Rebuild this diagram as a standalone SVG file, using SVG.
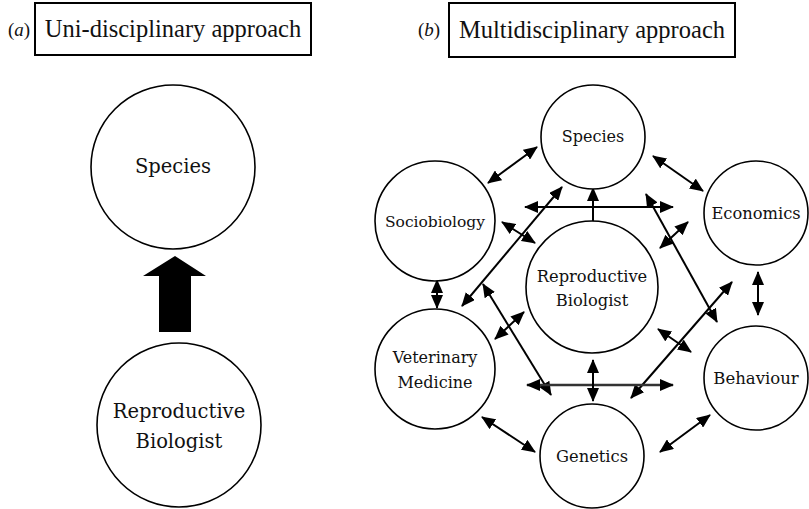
<svg xmlns="http://www.w3.org/2000/svg" width="809" height="509" viewBox="0 0 809 509" font-family="Liberation Serif, serif">
<style>
.c{fill:#fff;stroke:#000;stroke-width:1.6}
.a{stroke:#000;stroke-width:2;fill:none;marker-start:url(#h);marker-end:url(#h)}
.s{stroke:#000;stroke-width:2;fill:none;marker-end:url(#h)}
.box{fill:#fff;stroke:#000;stroke-width:2}
</style>
<defs>
<marker id="h" viewBox="0 0 14 12" refX="13" refY="6" markerWidth="14" markerHeight="12" markerUnits="userSpaceOnUse" orient="auto-start-reverse">
<path d="M0,0 L14,6 L0,12 z" fill="#000"/>
</marker>
</defs>
<rect width="809" height="509" fill="#fff"/>

<g id="title-a" fill="#111">
<text x="8" y="36" font-size="19" text-anchor="start">(<tspan font-style="italic">a</tspan>)</text>
<rect class="box" x="35" y="3" width="276" height="52"/>
<text x="173" y="37" font-size="24.5" text-anchor="middle">Uni-disciplinary approach</text>
</g>
<g id="title-b" fill="#111">
<text x="418" y="36" font-size="19" text-anchor="start">(<tspan font-style="italic">b</tspan>)</text>
<rect class="box" x="449" y="3" width="286" height="54"/>
<text x="592" y="38" font-size="24.5" text-anchor="middle">Multidisciplinary approach</text>
</g>

<g id="a-species" fill="#111" font-family="DejaVu Serif, serif">
<circle class="c" cx="173" cy="167" r="82"/>
<text x="173" y="173" font-size="19.5" text-anchor="middle">Species</text>
</g>
<g id="a-repro" fill="#111" font-family="DejaVu Serif, serif">
<circle class="c" cx="179" cy="425" r="82"/>
<text x="179" y="418" font-size="19.5" text-anchor="middle">Reproductive</text>
<text x="179" y="448" font-size="19.5" text-anchor="middle">Biologist</text>
</g>

<g id="connectors">
<polygon points="175,256 206,276 191,276 191,332 159,332 159,276 143,276" fill="#000"/>
<line class="a" x1="537" y1="147" x2="488" y2="183"/>
<line class="a" x1="653" y1="156" x2="703" y2="191"/>
<line class="a" x1="437" y1="280" x2="437" y2="308"/>
<line class="a" x1="758" y1="272" x2="758" y2="315"/>
<line class="a" x1="482" y1="417" x2="535" y2="452"/>
<line class="a" x1="710" y1="415" x2="660" y2="452"/>
<line class="a" x1="525" y1="207" x2="673" y2="207"/>
<line class="s" x1="593" y1="226" x2="593" y2="188"/>
<line class="a" x1="562" y1="187" x2="462" y2="306"/>
<line class="a" x1="646" y1="194" x2="717" y2="322"/>
<line class="a" x1="483" y1="284" x2="551" y2="395"/>
<line class="a" x1="732" y1="282" x2="631" y2="398"/>
<line class="a" x1="527" y1="385" x2="673" y2="385" style="stroke:#333;stroke-width:2.5"/>
<line class="a" x1="593" y1="360" x2="593" y2="401"/>
<line class="a" x1="502" y1="222" x2="535" y2="243"/>
<line class="a" x1="688" y1="222" x2="660" y2="248"/>
<line class="a" x1="524" y1="312" x2="495" y2="339"/>
<line class="a" x1="658" y1="329" x2="691" y2="352"/>
</g>

<g id="b-species" fill="#111" font-family="DejaVu Serif, serif">
<circle class="c" cx="593" cy="137" r="52"/>
<text x="593" y="142" font-size="16" text-anchor="middle">Species</text>
</g>
<g id="b-sociobiology" fill="#111" font-family="DejaVu Serif, serif">
<circle class="c" cx="435" cy="221" r="60"/>
<text x="435" y="227" font-size="15.5" text-anchor="middle">Sociobiology</text>
</g>
<g id="b-economics" fill="#111" font-family="DejaVu Serif, serif">
<circle class="c" cx="756" cy="213" r="52"/>
<text x="756" y="219" font-size="16.3" text-anchor="middle">Economics</text>
</g>
<g id="b-repro" fill="#111" font-family="DejaVu Serif, serif">
<circle class="c" cx="592" cy="287" r="66"/>
<text x="592" y="282" font-size="16.3" text-anchor="middle">Reproductive</text>
<text x="592" y="306" font-size="16.3" text-anchor="middle">Biologist</text>
</g>
<g id="b-veterinary" fill="#111" font-family="DejaVu Serif, serif">
<circle class="c" cx="435" cy="369" r="60"/>
<text x="435" y="363" font-size="16" text-anchor="middle">Veterinary</text>
<text x="435" y="388" font-size="16" text-anchor="middle">Medicine</text>
</g>
<g id="b-behaviour" fill="#111" font-family="DejaVu Serif, serif">
<circle class="c" cx="756" cy="378" r="52"/>
<text x="756" y="384" font-size="16.5" text-anchor="middle">Behaviour</text>
</g>
<g id="b-genetics" fill="#111" font-family="DejaVu Serif, serif">
<circle class="c" cx="592" cy="456" r="52"/>
<text x="592" y="462" font-size="16.3" text-anchor="middle">Genetics</text>
</g>
</svg>
